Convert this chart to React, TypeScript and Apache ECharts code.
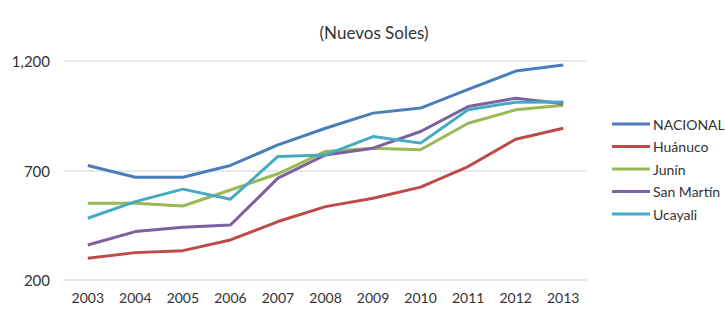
import React, { useEffect, useRef } from "react";
import * as echarts from "echarts";

const years = ["2003", "2004", "2005", "2006", "2007", "2008", "2009", "2010", "2011", "2012", "2013"];
const nacional = [723, 669, 669, 723, 817, 893, 962, 985, 1070, 1154, 1182];
const huanuco = [299, 325, 334, 383, 467, 535, 573, 624, 718, 843, 893];
const junin = [551, 551, 538, 611, 685, 787, 802, 795, 916, 977, 998];
const sanMartin = [360, 421, 441, 451, 665, 771, 802, 878, 992, 1030, 1005];
const ucayali = [482, 558, 615, 569, 764, 771, 855, 825, 977, 1012, 1013];
const seriesNames = ["NACIONAL", "Huánuco", "Junín", "San Martín", "Ucayali"];
const colors = ["#4a7ebb", "#be4b48", "#98b954", "#7d60a0", "#46aac5"];

const FONT = "Lato, 'Open Sans', sans-serif";
const TEXT = "#333333";

export default function App() {
  const ref = useRef<HTMLDivElement>(null);
  useEffect(() => {
    if (!ref.current) return;
    const chart = echarts.init(ref.current, undefined, { renderer: "svg" });
    const data = [nacional, huanuco, junin, sanMartin, ucayali];
    chart.setOption({
      animation: false,
      backgroundColor: "#ffffff",
      title: {
        text: "(Nuevos Soles)",
        left: 369,
        textAlign: "center",
        top: 19,
        textStyle: { fontFamily: FONT, fontSize: 17, fontWeight: "normal", color: TEXT },
      },
      grid: { left: 64, right: 138, top: 61, bottom: 35 },
      legend: {
        orient: "vertical",
        left: 607,
        top: 112,
        icon: "rect",
        itemWidth: 38,
        itemHeight: 3,
        itemGap: 8.5,
        data: seriesNames,
        textStyle: { fontFamily: FONT, fontSize: 14, color: TEXT, padding: [0, 0, 0, -2] },
      },
      xAxis: {
        type: "category",
        data: years,
        boundaryGap: true,
        axisLine: { show: false },
        axisTick: { show: false },
        axisLabel: { fontFamily: FONT, fontSize: 14, color: TEXT, margin: 10 },
      },
      yAxis: {
        type: "value",
        min: 200,
        max: 1200,
        interval: 500,
        axisLine: { show: false },
        axisTick: { show: false },
        splitLine: { lineStyle: { color: "#e0e0e0", width: 1.5 } },
        axisLabel: {
          fontFamily: FONT,
          fontSize: 15,
          color: TEXT,
          margin: 14,
          formatter: (v: number) => v.toLocaleString("en-US"),
        },
      },
      series: seriesNames.map((name, i) => ({
        name,
        type: "line",
        data: data[i],
        symbol: "none",
        lineStyle: { width: 3, color: colors[i] },
        itemStyle: { color: colors[i] },
        color: colors[i],
      })),
    });
    return () => chart.dispose();
  }, []);
  return <div ref={ref} style={{ position: "absolute", left: 0, top: 0, width: 725, height: 315 }} />;
}
